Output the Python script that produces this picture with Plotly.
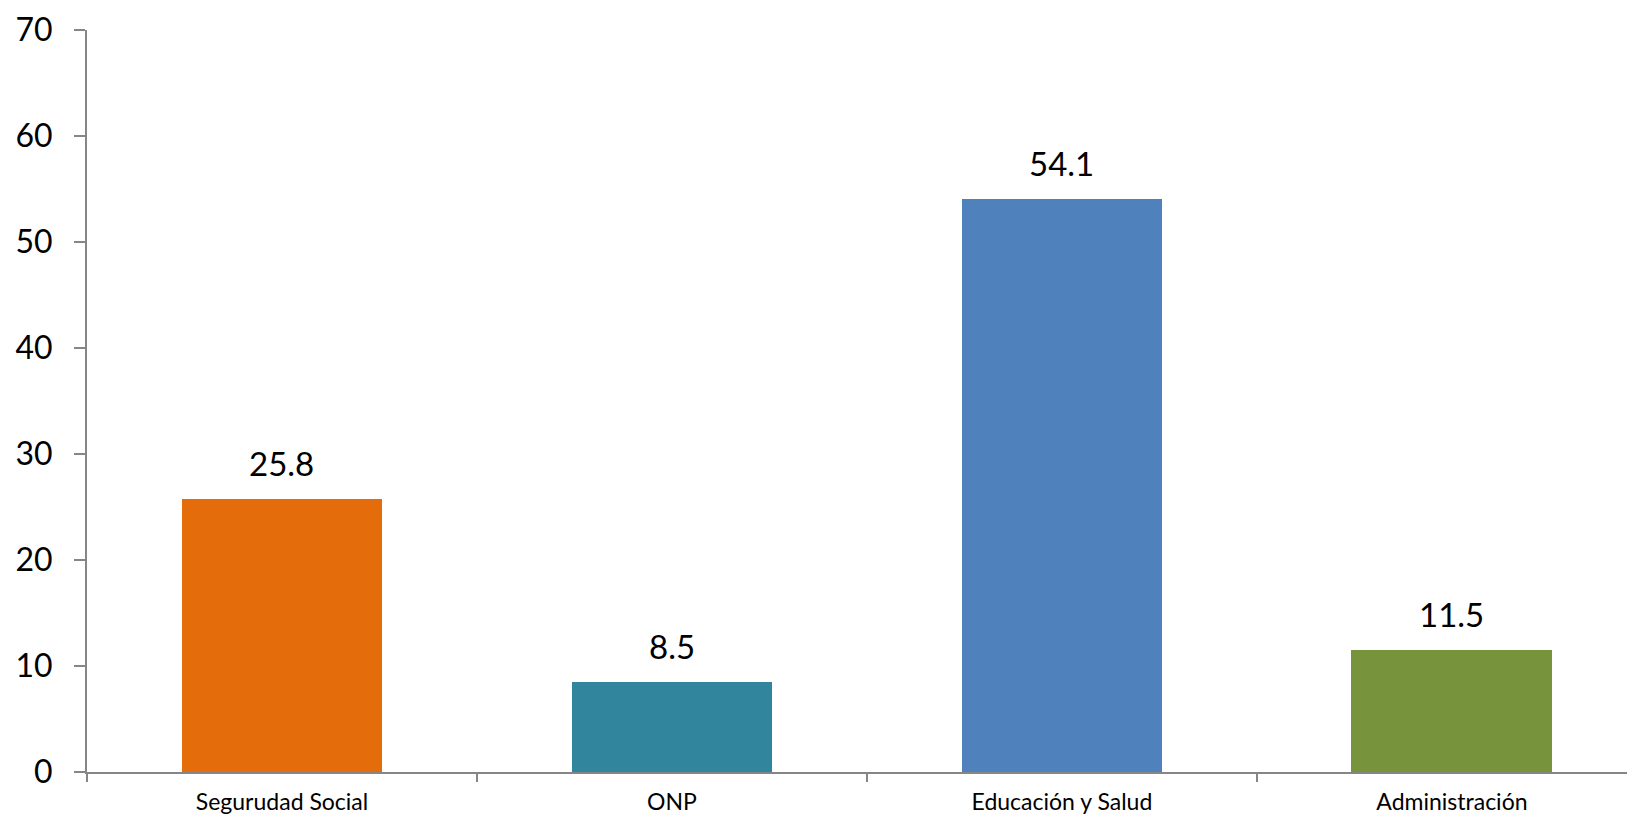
import plotly.graph_objects as go

categories = ["Segurudad Social", "ONP", "Educación y Salud", "Administración"]
values = [25.8, 8.5, 54.1, 11.5]
colors = ["#E46C0A", "#31859C", "#4F81BD", "#77933C"]
y_ticks = [0, 10, 20, 30, 40, 50, 60, 70]

font_family = "Lato, 'Open Sans', sans-serif"

fig = go.Figure()
fig.add_trace(go.Bar(
    x=categories, y=values, marker=dict(color=colors, line=dict(width=0)),
    width=0.515, hoverinfo="skip", showlegend=False,
))

for c, v in zip(categories, values):
    fig.add_annotation(x=c, y=v, text=f"{v:.1f}", showarrow=False,
                       yanchor="bottom", yshift=14,
                       font=dict(family=font_family, size=33, color="#000000"))

fig.update_layout(
    width=1635, height=818,
    margin=dict(l=79, r=0, t=22, b=54),
    paper_bgcolor="white", plot_bgcolor="white",
    font=dict(family=font_family, color="#000000"),
    bargap=0,
)
fig.update_xaxes(
    type="category", range=[-0.5, 3.49], automargin=False,
    showline=True, linecolor="#868686", linewidth=2,
    ticks="outside", tickson="boundaries", ticklen=8, tickcolor="#868686", tickwidth=2,
    tickfont=dict(size=23, family=font_family), ticklabelstandoff=8,
    ticklabeloverflow="allow",
    showgrid=False, zeroline=False,
)
fig.update_yaxes(
    range=[0, 70], tickvals=y_ticks, automargin=False,
    showline=True, linecolor="#868686", linewidth=2,
    ticks="outside", ticklen=11, tickcolor="#868686", tickwidth=2,
    tickfont=dict(size=32, family=font_family), ticklabelstandoff=15,
    ticklabeloverflow="allow",
    showgrid=False, zeroline=False,
)

fig.write_html("out.html")
